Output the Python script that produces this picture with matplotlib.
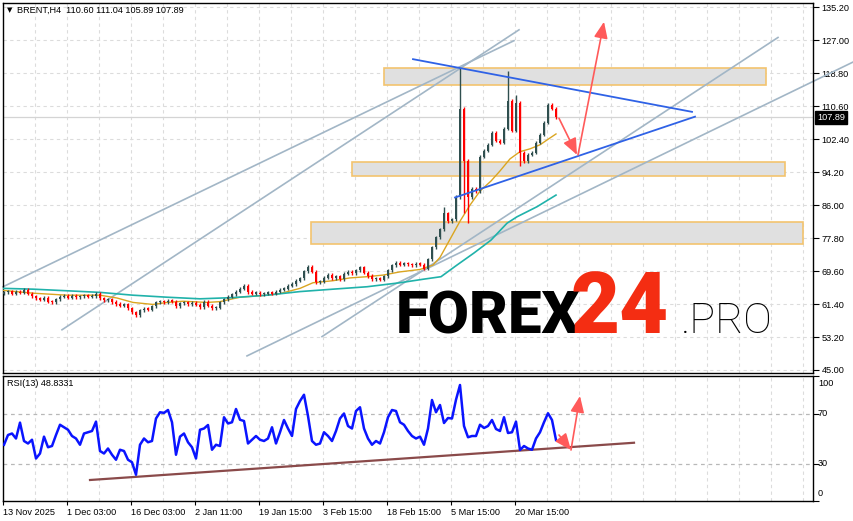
import numpy as np
import matplotlib.pyplot as plt
from matplotlib.patches import Rectangle

# BRENT H4 closes, one every 4 bars (bar index = x)
closes = [64.3, 64.6, 64.0, 64.5, 64.2, 64.9, 64.0, 63.3, 62.8, 62.5,
          63.0, 62.0, 61.8, 62.6, 63.2, 63.5, 63.0, 63.4, 63.1, 63.3,
          63.6, 63.2, 63.4, 64.0, 62.8, 62.3, 62.6, 61.9, 61.4, 61.0,
          61.3, 60.3, 59.3, 58.6, 59.8, 60.2, 60.0, 60.8, 61.8, 62.0,
          61.9, 62.2, 62.0, 60.9, 61.6, 61.8, 61.4, 61.7, 61.2, 60.6,
          62.0, 61.0, 60.3, 60.5, 61.8, 62.6, 63.2, 63.8, 64.5, 65.2,
          66.0, 64.4, 64.0, 64.2, 63.8, 64.0, 64.3, 64.0, 64.5, 65.0,
          65.2, 66.0, 66.4, 67.2, 67.8, 69.5, 70.6, 69.4, 66.8, 67.0,
          68.0, 68.6, 67.9, 68.3, 67.6, 68.9, 69.4, 69.0, 69.8, 70.5,
          69.2, 68.4, 67.6, 67.8, 67.5, 68.3, 69.8, 71.0, 71.6, 71.2,
          71.5, 71.3, 71.0, 71.4, 71.2, 70.2, 72.5, 75.5, 78.0, 80.0,
          84.0, 82.0, 82.5, 88.0, 110.0, 97.0, 88.0, 90.0, 89.5, 98.0,
          99.5, 101.0, 104.0, 102.0, 101.5, 105.0, 112.0, 104.5, 111.5, 99.0,
          97.0, 98.5, 99.0, 101.5, 103.5, 106.5, 111.0, 110.0, 107.89]
first_open = 64.0
spike_high = {110: 85.5, 114: 120.1, 126: 119.3, 128: 113.5}
spike_low = {115: 84.0, 116: 81.5, 129: 95.8}

rsi = [45, 52.8, 54, 50, 62.7, 48, 46, 49, 34, 38,
       51.5, 43, 44, 52.8, 61, 59, 57, 52, 50, 45,
       54, 55, 56, 63.5, 40, 38, 42, 37, 33, 41,
       40, 33, 31, 21, 45, 50, 47, 48, 66, 71,
       70.5, 72.8, 63, 37, 51.5, 54, 47, 43, 34, 57,
       58, 60.8, 41, 45, 44, 67, 62, 63, 73.6, 65,
       64, 46, 49, 52, 49, 48, 50, 59, 46, 55,
       64.8, 58, 52, 73.6, 80, 85, 68, 48, 45, 46,
       55, 52, 48, 56, 66, 70, 60, 58, 72, 75,
       58, 50, 45, 48, 46, 55, 67, 72.8, 72, 63,
       61, 56, 52, 50, 51.5, 45, 58, 80.8, 71, 76.8,
       62.4, 66.4, 66, 81, 92.8, 60, 51, 52, 52, 61,
       58.4, 60, 64.8, 57.6, 56, 67, 54.4, 55, 63.5, 40.8,
       44, 42, 41, 50, 55, 63, 70.2, 64.8, 48.83]

ma_fast_x = [3, 33, 67, 100, 117, 133, 153, 167, 183, 207, 220, 240, 267, 280, 300, 313, 333, 350,
             367, 383, 400, 420, 433, 440, 450, 460, 470, 480, 491, 500, 510, 520, 530, 540, 547, 556]
ma_fast = [64.8, 64.1, 63.6, 63.6, 62.9, 61.8, 61.3, 61.8, 62.1, 61.8, 62.0, 63.1, 63.6, 64.0, 65.3, 66.7,
           67.2, 67.9, 68.2, 68.6, 69.4, 70.0, 71.1, 73.0, 77.5, 82.0, 86.0, 89.5, 92.0, 94.5, 97.5, 99.3,
           100.0, 101.0, 102.2, 103.7]
ma_slow_x = [3, 33, 67, 100, 133, 167, 200, 233, 267, 300, 333, 367, 400, 424, 441, 457, 474, 491, 507, 517, 537, 556]
ma_slow = [65.3, 65.1, 64.7, 64.3, 63.6, 63.1, 62.7, 63.0, 63.6, 64.5, 65.1, 65.7, 66.7, 67.6, 68.2, 71.1,
           74.1, 77.3, 81.5, 83.1, 85.6, 88.5]

price_ticks = [135.20, 127.00, 118.80, 110.60, 102.40, 94.20, 86.00, 77.80, 69.60, 61.40, 53.20, 45.00]
date_labels = ['13 Nov 2025', '1 Dec 03:00', '16 Dec 03:00', '2 Jan 11:00', '19 Jan 15:00',
               '3 Feb 15:00', '18 Feb 15:00', '5 Mar 15:00', '20 Mar 15:00']
last_price = 107.89
rsi_last = 48.8331

# zones (x0, x1, low, high)
zones = [(384, 766, 115.8, 120.0), (352, 785, 93.2, 96.7), (311, 803, 76.4, 81.7)]
# channel lines (x0, p0, x1, p1)
grey_lines = [(3, 65.7, 514, 126.9), (62, 55.0, 519, 129.6), (247, 48.5, 854, 121.7), (322, 53.3, 778, 127.7)]
blue_lines = [(413, 122.3, 692, 109.2), (455, 87.9, 695, 108.0)]
arrows = [((559, 107.6), (577, 98.5)), ((578, 98.5), (604, 131.6))]
rsi_trend = (90, 16.8, 634, 46.6)
rsi_arrows = [((559, 52.8), (571, 40.8)), ((571, 40.8), (580, 84))]

W, H = 854, 521
plt.rcParams['font.family'] = ['Liberation Sans', 'DejaVu Sans']
fig = plt.figure(figsize=(W / 100, H / 100), dpi=100)

def px_axes(l, t, r, b):
    return fig.add_axes([l / W, 1 - b / H, (r - l) / W, (b - t) / H])

ax = px_axes(3, 3, 813, 373)
ax2 = px_axes(3, 376, 813, 501)

grid_kw = dict(color='#dcdcdc', lw=0.8, ls=(0, (3, 3)), zorder=0)
for a in (ax, ax2):
    for gx in range(35, 813, 32):
        a.axvline(gx, **grid_kw)
    a.set_xlim(3, 813)
    for s in a.spines.values():
        s.set_color('black')
        s.set_linewidth(1)
for p in price_ticks:
    ax.axhline(p, **grid_kw)

ax.set_ylim(44.25, 136.27)
ax2.set_ylim(0, 100)

# candles
n = len(closes)
bx = 4 + 4 * np.arange(n)
opens = np.array([first_open] + closes[:-1])
cl = np.array(closes)
hi = np.maximum(opens, cl) + 0.4
lo = np.minimum(opens, cl) - 0.4
for i, v in spike_high.items():
    hi[i] = v
for i, v in spike_low.items():
    lo[i] = v
cols = np.where(cl >= opens, '#2f4f4f', '#ff0000')
ax.vlines(bx, lo, hi, colors=cols, lw=1.0, zorder=4)
ax.bar(bx, np.maximum(np.abs(cl - opens), 0.3), bottom=np.minimum(opens, cl), width=2.8,
       color=cols, zorder=5)

ax.plot(ma_fast_x, ma_fast, color='#daa520', lw=1, zorder=3)
ax.plot(ma_slow_x, ma_slow, color='#20b2aa', lw=1.2, zorder=3)

for x0, x1, p0, p1 in zones:
    ax.add_patch(Rectangle((x0, p0), x1 - x0, p1 - p0, fc='#e0e0e0', ec='#f3c46e', lw=1.2, zorder=1))

for x0, p0, x1, p1 in grey_lines:
    ax.plot([x0, x1], [p0, p1], color='#a2b6c6', lw=1.2, zorder=2, clip_on=False)
for x0, p0, x1, p1 in blue_lines:
    ax.plot([x0, x1], [p0, p1], color='#2f62e6', lw=1.3, zorder=6)

arrow_kw = dict(arrowstyle='-|>,head_length=0.9,head_width=0.38', color='#ff5a5a', lw=1.2,
                mutation_scale=11, shrinkA=0, shrinkB=0)
for st, tip in arrows:
    ax.annotate('', xy=tip, xytext=st, arrowprops=arrow_kw, zorder=7)

ax.axhline(last_price, color='#d4d4d4', lw=0.9, zorder=1)

ax.yaxis.tick_right()
ax.set_yticks(price_ticks)
ax.set_yticklabels(['%.2f' % p for p in price_ticks])
ax.tick_params(axis='y', labelsize=6.6, length=4, width=0.8, pad=2, colors='black')
ax.set_xticks([])

# RSI panel
ax2.plot(bx, rsi, color='#0a14ff', lw=1.8, zorder=4)
for lvl in (70, 30):
    ax2.axhline(lvl, color='#b8b8b8', lw=0.9, ls=(0, (3, 3)), zorder=1)
ax2.plot([rsi_trend[0], rsi_trend[2]], [rsi_trend[1], rsi_trend[3]], color='#8a4a4a', lw=1.6, zorder=3)
for st, tip in rsi_arrows:
    ax2.annotate('', xy=tip, xytext=st, arrowprops=arrow_kw, zorder=7)
ax2.yaxis.tick_right()
ax2.set_yticks([0, 30, 70, 100])
ax2.set_yticklabels([])
ax2.tick_params(axis='y', length=4, width=0.8)
for lvl, va, off in [(100, 'top', -0.02), (70, 'center', 0), (30, 'center', 0), (0, 'bottom', 0.02)]:
    ax2.text(1.006, lvl / 100 + off, str(lvl), transform=ax2.transAxes, fontsize=6.6, va=va, ha='left')

ax2.set_xticks([3 + 64 * i for i in range(len(date_labels))])
ax2.set_xticklabels(date_labels)
for t in ax2.get_xticklabels():
    t.set_ha('left')
ax2.tick_params(axis='x', labelsize=6.6, length=3, width=0.8, pad=2)

# header texts
fig.text(7 / W, 1 - 10 / H, '▼', fontsize=5, va='center', family='DejaVu Sans')
fig.text(17 / W, 1 - 10 / H, 'BRENT,H4  110.60 111.04 105.89 107.89', fontsize=6.6, va='center')
fig.text(7 / W, 1 - 384 / H, 'RSI(13) %.4f' % rsi_last, fontsize=6.6, va='center')
fig.text(817 / W, 1 - 117.4 / H, '%.2f' % last_price, fontsize=6.6, va='center', color='white',
         bbox=dict(boxstyle='square,pad=0.2', fc='black', ec='black'))

# logo
fig.text(396 / W, 1 - 333 / H, 'FOREX', fontsize=43, fontweight='black', family='Roboto', va='baseline')
fig.text(571 / W, 1 - 333 / H, '24', fontsize=61, fontweight='black', family='Roboto', va='baseline',
         color='#f42d12')
fig.text(681 / W, 1 - 333 / H, '.PRO', fontsize=31, fontweight='light', family='Roboto', va='baseline')

fig.savefig('out.png', dpi=100)
